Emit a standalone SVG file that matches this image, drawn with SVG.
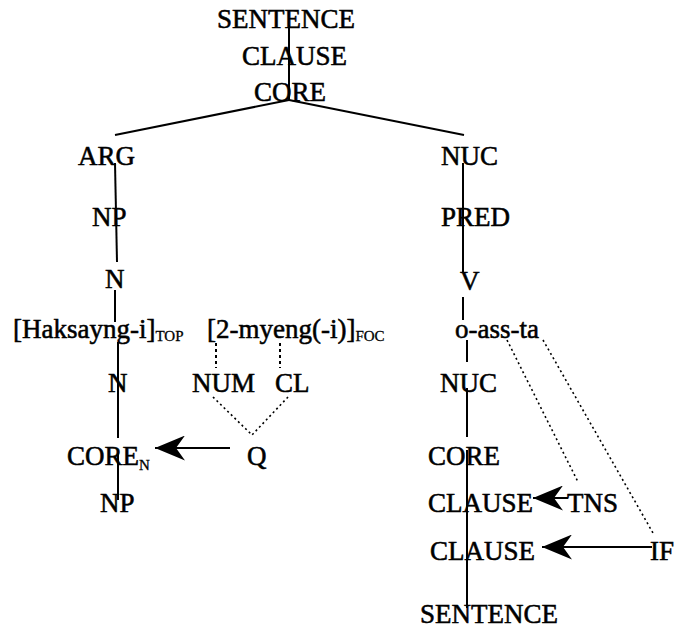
<svg xmlns="http://www.w3.org/2000/svg" width="675" height="631" viewBox="0 0 675 631">
  <style>
    text { font-family: 'Liberation Serif', 'DejaVu Serif', serif; font-size: 27px; fill: #000; stroke: #000; stroke-width: 0.55px; }
    .sub { font-size: 15px; stroke-width: 0.3px; }
    .tree { stroke: #000; stroke-width: 2; fill: none; }
    .dash { stroke: #000; stroke-width: 2; stroke-dasharray: 3 3; fill: none; }
    .dot { stroke: #000; stroke-width: 1.6; stroke-dasharray: 2 3; fill: none; }
    .arrow { stroke: #000; stroke-width: 2; fill: none; marker-end: url(#stealth); }
  </style>
  <defs>
    <marker id="stealth" viewBox="0 0 30 25" refX="30" refY="12.5" markerWidth="30" markerHeight="25" markerUnits="userSpaceOnUse" orient="auto">
      <path d="M30,12.5 L0,0 L9,12.5 L0,25 Z" fill="#000"/>
    </marker>
  </defs>
  <rect width="675" height="631" fill="#fff"/>

  <g id="connectors">
    <!-- spine of the sentence projection -->
    <line class="tree" x1="289" y1="25" x2="289" y2="100"/>
    <line class="tree" x1="289" y1="100" x2="115" y2="135"/>
    <line class="tree" x1="289" y1="100" x2="464" y2="135"/>
    <!-- argument branch -->
    <line class="tree" x1="115" y1="163" x2="117" y2="262"/>
    <line class="tree" x1="115" y1="290" x2="115" y2="322"/>
    <line class="tree" x1="118" y1="342" x2="118" y2="438"/>
    <line class="tree" x1="118" y1="453" x2="118" y2="500"/>
    <!-- nucleus branch -->
    <line class="tree" x1="463" y1="163" x2="463" y2="272"/>
    <line class="tree" x1="463" y1="297" x2="463" y2="320"/>
    <line class="tree" x1="467" y1="340" x2="467" y2="362"/>
    <line class="tree" x1="467" y1="388" x2="467" y2="437"/>
    <line class="tree" x1="467" y1="450" x2="467" y2="608"/>
    <!-- morpheme links -->
    <line class="dash" x1="216" y1="343" x2="216" y2="368"/>
    <line class="dash" x1="280" y1="343" x2="280" y2="368"/>
    <line class="dot" x1="213" y1="397" x2="252" y2="435"/>
    <line class="dot" x1="288" y1="397" x2="252" y2="435"/>
    <line class="dot" x1="507" y1="340" x2="578" y2="482"/>
    <line class="dot" x1="543" y1="340" x2="653" y2="533"/>
    <!-- operator arrows -->
    <line class="arrow" x1="230" y1="448" x2="155" y2="448"/>
    <line class="arrow" x1="568" y1="498" x2="533" y2="498"/>
    <line class="arrow" x1="652" y1="547" x2="542" y2="547"/>
  </g>

  <g id="sentence-top"><text x="217" y="28">SENTENCE</text></g>
  <g id="clause-top"><text x="242" y="65">CLAUSE</text></g>
  <g id="core-top"><text x="254" y="101">CORE</text></g>

  <g id="arg"><text x="78" y="165">ARG</text></g>
  <g id="np-top"><text x="92" y="226">NP</text></g>
  <g id="n-top"><text x="105" y="288">N</text></g>
  <g id="haksayng"><text x="13" y="338">[Haksayng-i]<tspan class="sub" dy="3">TOP</tspan></text></g>
  <g id="myeng"><text x="207" y="338">[2-myeng(-i)]<tspan class="sub" dy="3">FOC</tspan></text></g>
  <g id="n-bottom"><text x="108" y="392">N</text></g>
  <g id="num"><text x="192" y="392">NUM</text></g>
  <g id="cl"><text x="275" y="392">CL</text></g>
  <g id="core-n"><text x="67" y="465">CORE<tspan class="sub" dy="5">N</tspan></text></g>
  <g id="q"><text x="247" y="465">Q</text></g>
  <g id="np-bottom"><text x="100" y="512">NP</text></g>

  <g id="nuc-top"><text x="441" y="165">NUC</text></g>
  <g id="pred"><text x="441" y="226">PRED</text></g>
  <g id="v"><text x="460" y="290">V</text></g>
  <g id="o-ass-ta"><text x="455" y="338">o-ass-ta</text></g>
  <g id="nuc-bottom"><text x="440" y="392">NUC</text></g>
  <g id="core-bottom"><text x="428" y="465">CORE</text></g>
  <g id="clause-tns"><text x="428" y="512">CLAUSE</text></g>
  <g id="tns"><text x="567" y="512">TNS</text></g>
  <g id="clause-if"><text x="430" y="560">CLAUSE</text></g>
  <g id="if"><text x="650" y="560">IF</text></g>
  <g id="sentence-bottom"><text x="420" y="623">SENTENCE</text></g>
</svg>
